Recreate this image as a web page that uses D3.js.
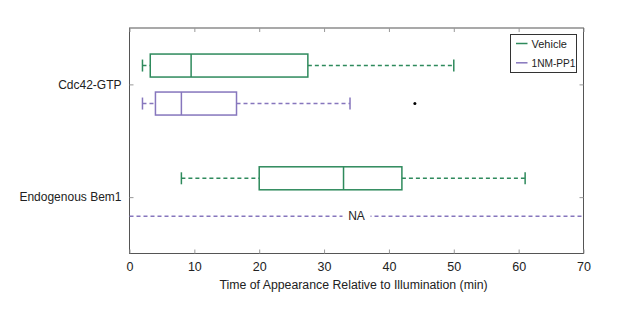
<!DOCTYPE html>
<html>
<head>
<meta charset="utf-8">
<script src="https://cdn.jsdelivr.net/npm/d3@7"></script>
<style>
	body { margin: 0; background: #fff; }
	text { font-family: "Liberation Sans", Arial, sans-serif; fill: #222; }
</style>
</head>
<body>
<div id="graphic"></div>
<script>
// categories and series
const categories = ['Cdc42-GTP', 'Endogenous Bem1'];
const seriesNames = ['Vehicle', '1NM-PP1'];
const seriesColours = ['#2e8a5c', '#8676bd'];
// [whiskerLow, q1, median, q3, whiskerHigh] per category, null = not available
const vehicleStats = [[2, 3.2, 9.5, 27.5, 50], [8, 20, 33, 42, 61]];
const pp1Stats = [[2, 4, 8, 16.5, 34], null];
const pp1Outliers = [[44], []];
const xTicks = [0, 10, 20, 30, 40, 50, 60, 70];
const xAxisLabel = 'Time of Appearance Relative to Illumination (min)';

const width = 617, height = 314;
const margin = { top: 28, right: 33.5, bottom: 60.5, left: 129.5 };
const chart_width = width - margin.left - margin.right;
const chart_height = height - margin.top - margin.bottom;

const svg = d3.select('#graphic').append('svg')
	.attr('width', width).attr('height', height)
	.append('g')
	.attr('transform', `translate(${margin.left},${margin.top})`);

const x = d3.scaleLinear().domain([0, 70]).range([0, chart_width]);
// categories sit at 1 and 2
const y = d3.scaleLinear().domain([0.5, 2.5]).range([0, chart_height]);

const offset = [-0.167, 0.17];
const halfBox = 0.102;

// frame
svg.append('rect')
	.attr('width', chart_width).attr('height', chart_height)
	.attr('fill', 'none').attr('stroke', '#555').attr('stroke-width', 1);

// x axis bottom
const xAxis = d3.axisBottom(x).tickValues(xTicks).tickSize(-4).tickPadding(9);
const gx = svg.append('g').attr('transform', `translate(0,${chart_height})`).call(xAxis);
gx.select('.domain').remove();
gx.selectAll('line').attr('stroke', '#999');
gx.selectAll('text').attr('font-size', 12.5).style('fill', '#222');

// x ticks on top
const gxt = svg.append('g').call(d3.axisTop(x).tickValues(xTicks).tickSize(-4).tickFormat(''));
gxt.select('.domain').remove();
gxt.selectAll('line').attr('stroke', '#999');

// y axis
const yAxis = d3.axisLeft(y).tickValues([1, 2]).tickSize(-4).tickPadding(8)
	.tickFormat((d) => categories[d - 1]);
const gy = svg.append('g').call(yAxis);
gy.select('.domain').remove();
gy.selectAll('line').attr('stroke', '#999');
gy.selectAll('text').attr('font-size', 12).style('fill', '#222');

const gyr = svg.append('g').attr('transform', `translate(${chart_width},0)`)
	.call(d3.axisRight(y).tickValues([1, 2]).tickSize(-4).tickFormat(''));
gyr.select('.domain').remove();
gyr.selectAll('line').attr('stroke', '#999');

// x axis label
svg.append('text')
	.attr('x', chart_width / 2 - 3)
	.attr('y', chart_height + 35)
	.attr('text-anchor', 'middle')
	.attr('font-size', 12.3)
	.text(xAxisLabel);

function drawBox(stats, catIndex, seriesIndex) {
	const colour = seriesColours[seriesIndex];
	const cy = y(catIndex + 1 + offset[seriesIndex]);
	const top = y(catIndex + 1 + offset[seriesIndex] - halfBox);
	const bottom = y(catIndex + 1 + offset[seriesIndex] + halfBox);
	const capH = 6;
	const [lo, q1, med, q3, hi] = stats;
	const g = svg.append('g').attr('stroke', colour).attr('stroke-width', 1.5).attr('fill', 'none');

	g.append('line').attr('x1', x(lo)).attr('x2', x(q1)).attr('y1', cy).attr('y2', cy)
		.attr('stroke-dasharray', '4 3');
	g.append('line').attr('x1', x(q3)).attr('x2', x(hi)).attr('y1', cy).attr('y2', cy)
		.attr('stroke-dasharray', '4 3');
	g.append('line').attr('x1', x(lo)).attr('x2', x(lo)).attr('y1', cy - capH).attr('y2', cy + capH);
	g.append('line').attr('x1', x(hi)).attr('x2', x(hi)).attr('y1', cy - capH).attr('y2', cy + capH);
	g.append('rect').attr('x', x(q1)).attr('y', top)
		.attr('width', x(q3) - x(q1)).attr('height', bottom - top);
	g.append('line').attr('x1', x(med)).attr('x2', x(med)).attr('y1', top).attr('y2', bottom);
}

function drawNA(catIndex, seriesIndex) {
	const colour = seriesColours[seriesIndex];
	const cy = y(catIndex + 1 + offset[seriesIndex]);
	svg.append('line')
		.attr('x1', x(0)).attr('x2', x(70)).attr('y1', cy).attr('y2', cy)
		.attr('stroke', colour).attr('stroke-width', 1.5).attr('stroke-dasharray', '4 3');
	svg.append('rect')
		.attr('x', x(35) - 14).attr('y', cy - 8).attr('width', 28).attr('height', 16)
		.attr('fill', '#fff');
	svg.append('text')
		.attr('x', x(35)).attr('y', cy + 4)
		.attr('text-anchor', 'middle').attr('font-size', 12)
		.text('NA');
}

categories.forEach((c, i) => {
	if (vehicleStats[i]) drawBox(vehicleStats[i], i, 0); else drawNA(i, 0);
	if (pp1Stats[i]) drawBox(pp1Stats[i], i, 1); else drawNA(i, 1);
	pp1Outliers[i].forEach((v) => {
		svg.append('circle')
			.attr('cx', x(v)).attr('cy', y(i + 1 + offset[1]))
			.attr('r', 1.5).attr('fill', '#000');
	});
});

// legend
const legend = svg.append('g').attr('transform', `translate(${510.5 - margin.left},${34.5 - margin.top})`);
legend.append('rect').attr('width', 66).attr('height', 38)
	.attr('fill', '#fff').attr('stroke', '#333').attr('stroke-width', 1);
seriesNames.forEach((name, i) => {
	const ly = 9 + i * 19.3;
	legend.append('line').attr('x1', 5.5).attr('x2', 17).attr('y1', ly).attr('y2', ly)
		.attr('stroke', seriesColours[i]).attr('stroke-width', 1.5);
	legend.append('text').attr('x', 21).attr('y', ly + 4).attr('font-size', 11)
		.attr('textLength', i === 1 ? 44 : null).attr('lengthAdjust', 'spacingAndGlyphs')
		.text(name);
});
</script>
</body>
</html>
